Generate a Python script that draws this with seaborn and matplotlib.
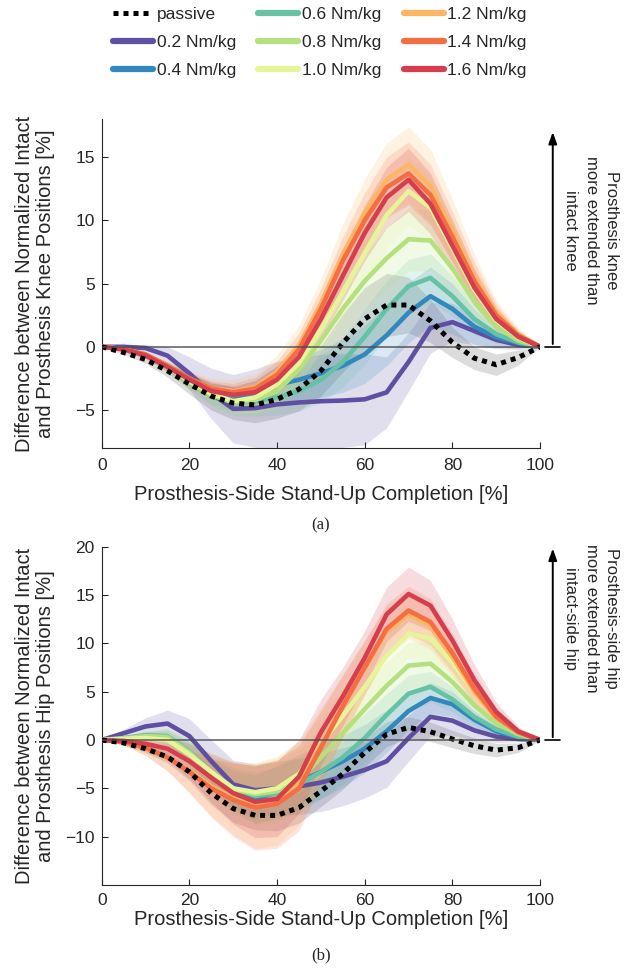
import numpy as np
import matplotlib
matplotlib.use('Agg')
import matplotlib.pyplot as plt
import matplotlib.transforms as mtransforms
from matplotlib.lines import Line2D
import seaborn as sns

# stand-up completion [%]
completion = [0, 5, 10, 15, 20, 25, 30, 35, 40, 45, 50, 55, 60, 65, 70, 75, 80, 85, 90, 95, 100]

series_labels = ['0.2 Nm/kg', '0.4 Nm/kg', '0.6 Nm/kg', '0.8 Nm/kg',
                 '1.0 Nm/kg', '1.2 Nm/kg', '1.4 Nm/kg', '1.6 Nm/kg']
series_colors = ['#5e4fa2', '#3288bd', '#66c2a5', '#b5e07e',
                 '#e6f598', '#fdb763', '#f46d43', '#d53e4f']

# knee: mean difference [%]
knee_passive = [0, -0.45, -1.0, -1.9, -2.95, -3.9, -4.45, -4.6, -4.15, -3.35, -1.9, 0.3, 2.2, 3.3, 3.3, 2.05, 0.35, -0.9, -1.42, -0.85, 0]
knee_02 = [0, 0, -0.1, -0.7, -2.1, -3.7, -4.9, -4.85, -4.55, -4.4, -4.3, -4.25, -4.15, -3.6, -1.2, 1.5, 1.95, 1.25, 0.55, 0.15, 0]
knee_04 = [0, -0.2, -0.7, -1.6, -2.7, -3.7, -4.2, -3.8, -3.0, -2.6, -2.1, -1.5, -0.6, 0.9, 2.7, 4.0, 3.0, 1.6, 0.75, 0.3, 0]
knee_06 = [0, -0.2, -0.7, -1.6, -2.8, -3.8, -4.4, -4.3, -4.0, -3.5, -2.6, -1.2, 0.8, 3.0, 4.8, 5.45, 4.0, 2.2, 1.0, 0.35, 0]
knee_08 = [0, -0.2, -0.7, -1.6, -2.8, -3.8, -4.4, -4.2, -3.5, -1.8, 0.5, 3.0, 5.2, 7.0, 8.5, 8.4, 6.2, 3.6, 1.6, 0.5, 0]
knee_10 = [0, -0.2, -0.7, -1.6, -2.7, -3.7, -4.3, -4.0, -3.0, -1.3, 1.4, 4.3, 7.4, 10.4, 12.3, 11.0, 7.8, 4.5, 2.1, 0.75, 0]
knee_12 = [0, -0.2, -0.6, -1.5, -2.5, -3.3, -3.5, -3.2, -2.0, 0.1, 3.4, 7.3, 10.6, 13.2, 14.4, 12.7, 9.2, 5.5, 2.7, 1.0, 0]
knee_14 = [0, -0.2, -0.6, -1.5, -2.5, -3.3, -3.6, -3.3, -2.2, -0.2, 3.0, 6.8, 10.0, 12.6, 13.7, 12.0, 8.7, 5.2, 2.5, 0.9, 0]
knee_16 = [0, -0.2, -0.7, -1.6, -2.6, -3.5, -3.8, -3.6, -2.6, -0.8, 2.2, 5.6, 9.0, 11.8, 13.2, 11.3, 8.0, 4.7, 2.2, 0.8, 0]

# knee: spread (half width of shaded band)
knee_passive_sd = [0, 0.15, 0.3, 0.5, 0.8, 1.1, 1.3, 1.4, 1.5, 1.7, 2.0, 2.3, 2.5, 2.5, 2.2, 1.7, 1.2, 0.9, 0.85, 0.6, 0]
knee_02_sd = [0, 0.1, 0.3, 0.7, 1.3, 2.0, 2.7, 3.1, 3.4, 3.6, 3.7, 3.7, 3.6, 2.8, 2.3, 2.0, 1.5, 1.1, 0.7, 0.35, 0]
knee_04_sd = [0, 0.1, 0.2, 0.4, 0.6, 0.8, 1.0, 1.2, 1.5, 1.7, 1.9, 2.1, 2.3, 2.4, 2.4, 2.3, 2.0, 1.4, 0.8, 0.4, 0]
knee_06_sd = [0, 0.1, 0.2, 0.4, 0.6, 0.8, 1.0, 1.2, 1.4, 1.6, 1.8, 2.0, 2.2, 2.2, 2.1, 1.9, 1.6, 1.2, 0.7, 0.35, 0]
knee_08_sd = [0, 0.1, 0.2, 0.4, 0.6, 0.8, 1.0, 1.2, 1.4, 1.6, 1.8, 2.0, 2.2, 2.4, 2.5, 2.4, 2.0, 1.4, 0.8, 0.4, 0]
knee_10_sd = [0, 0.1, 0.2, 0.4, 0.6, 0.8, 1.0, 1.2, 1.4, 1.6, 1.8, 2.1, 2.4, 2.6, 2.7, 2.6, 2.2, 1.6, 0.9, 0.4, 0]
knee_12_sd = [0, 0.1, 0.2, 0.4, 0.6, 0.8, 0.9, 1.1, 1.3, 1.6, 2.0, 2.4, 2.7, 2.9, 3.0, 2.9, 2.5, 1.8, 1.0, 0.5, 0]
knee_14_sd = [0, 0.1, 0.2, 0.3, 0.5, 0.6, 0.7, 0.9, 1.1, 1.3, 1.6, 1.9, 2.2, 2.4, 2.5, 2.4, 2.0, 1.5, 0.9, 0.4, 0]
knee_16_sd = [0, 0.1, 0.2, 0.3, 0.5, 0.6, 0.7, 0.9, 1.1, 1.3, 1.6, 1.9, 2.2, 2.4, 2.5, 2.4, 2.0, 1.5, 0.9, 0.4, 0]

# hip: mean difference [%]
hip_passive = [0, -0.3, -0.9, -1.75, -3.3, -5.5, -7.1, -7.8, -7.8, -7.0, -5.3, -3.5, -1.3, 0.6, 1.3, 0.85, 0.1, -0.6, -1.05, -0.8, 0]
hip_02 = [0, 0.7, 1.4, 1.7, 0.4, -2.2, -4.6, -5.2, -5.0, -4.8, -4.4, -3.8, -3.1, -2.2, 0.2, 2.4, 2.0, 1.0, 0.35, 0.1, 0]
hip_04 = [0, 0.15, 0.4, 0.2, -1.3, -3.5, -5.3, -6.1, -5.4, -4.3, -3.3, -2.2, -0.9, 0.9, 3.0, 4.35, 3.7, 2.1, 0.9, 0.3, 0]
hip_06 = [0, 0.2, 0.5, 0.4, -1.2, -3.3, -5.0, -5.8, -5.5, -4.6, -3.3, -1.8, 0.2, 2.6, 4.8, 5.5, 4.2, 2.4, 1.1, 0.35, 0]
hip_08 = [0, 0.15, 0.4, 0.3, -1.3, -3.4, -5.1, -5.6, -5.3, -4.2, -1.8, 0.7, 3.2, 5.6, 7.7, 7.9, 6.0, 3.6, 1.7, 0.6, 0]
hip_10 = [0, 0.1, 0.2, 0.0, -1.5, -3.3, -5.0, -5.4, -5.0, -3.5, -0.4, 2.5, 5.5, 8.7, 11.0, 10.5, 8.0, 5.0, 2.5, 0.9, 0]
hip_12 = [0, -0.2, -0.8, -1.8, -3.2, -4.8, -6.0, -6.8, -6.3, -4.5, -0.5, 3.6, 7.5, 11.2, 13.0, 11.8, 8.6, 5.0, 2.3, 0.8, 0]
hip_14 = [0, -0.2, -0.8, -1.8, -3.3, -5.0, -6.2, -7.0, -6.6, -5.0, -0.8, 3.5, 7.5, 11.5, 13.4, 12.2, 9.0, 5.3, 2.4, 0.8, 0]
hip_16 = [0, -0.1, -0.4, -0.9, -2.2, -3.9, -5.5, -6.4, -6.1, -3.8, 0.8, 4.5, 8.5, 13.0, 15.1, 13.9, 10.3, 6.2, 2.9, 0.9, 0]

# hip: spread (half width of shaded band)
hip_passive_sd = [0, 0.2, 0.4, 0.6, 0.9, 1.2, 1.4, 1.5, 1.6, 1.6, 1.6, 1.6, 1.5, 1.3, 1.1, 1.0, 0.9, 0.8, 0.7, 0.5, 0]
hip_02_sd = [0, 0.4, 0.9, 1.4, 1.8, 2.2, 2.5, 2.7, 2.8, 2.9, 3.0, 3.0, 2.9, 2.7, 2.4, 2.0, 1.5, 1.0, 0.6, 0.3, 0]
hip_04_sd = [0, 0.2, 0.4, 0.7, 1.1, 1.6, 2.1, 2.5, 2.7, 2.8, 2.8, 2.7, 2.5, 2.2, 1.9, 1.6, 1.3, 0.9, 0.6, 0.3, 0]
hip_06_sd = [0, 0.2, 0.4, 0.7, 1.1, 1.6, 2.1, 2.5, 2.7, 2.8, 2.8, 2.7, 2.5, 2.2, 1.9, 1.6, 1.3, 0.9, 0.6, 0.3, 0]
hip_08_sd = [0, 0.2, 0.5, 0.9, 1.4, 2.0, 2.6, 3.0, 3.2, 3.2, 3.0, 2.8, 2.6, 2.5, 2.4, 2.2, 1.8, 1.3, 0.8, 0.4, 0]
hip_10_sd = [0, 0.2, 0.5, 0.9, 1.4, 2.0, 2.6, 3.0, 3.2, 3.2, 3.0, 2.8, 2.6, 2.5, 2.4, 2.2, 1.8, 1.3, 0.8, 0.4, 0]
hip_12_sd = [0, 0.3, 0.8, 1.4, 2.2, 3.0, 3.8, 4.4, 4.6, 4.4, 3.8, 3.2, 2.8, 2.6, 2.5, 2.4, 2.0, 1.5, 0.9, 0.4, 0]
hip_14_sd = [0, 0.3, 0.8, 1.4, 2.2, 3.0, 3.8, 4.4, 4.6, 4.4, 3.8, 3.2, 2.8, 2.6, 2.5, 2.4, 2.0, 1.5, 0.9, 0.4, 0]
hip_16_sd = [0, 0.3, 0.7, 1.2, 1.8, 2.5, 3.2, 3.7, 3.9, 3.8, 3.4, 3.0, 2.8, 2.8, 2.8, 2.6, 2.2, 1.6, 1.0, 0.5, 0]

knee_means = [knee_02, knee_04, knee_06, knee_08, knee_10, knee_12, knee_14, knee_16]
knee_sds = [knee_02_sd, knee_04_sd, knee_06_sd, knee_08_sd, knee_10_sd, knee_12_sd, knee_14_sd, knee_16_sd]
hip_means = [hip_02, hip_04, hip_06, hip_08, hip_10, hip_12, hip_14, hip_16]
hip_sds = [hip_02_sd, hip_04_sd, hip_06_sd, hip_08_sd, hip_10_sd, hip_12_sd, hip_14_sd, hip_16_sd]

sns.set_style('ticks')
plt.rcParams['font.family'] = ['Liberation Sans', 'DejaVu Sans']
axis_gray = '#262626'
passive_dash = (0, (1, 1))


def draw_panel(ax, passive, passive_sd, means, sds, ylim, yticks, ylabel, note, note_y, arrow_top,
               xpad, xlabelpad):
    x = np.array(completion)
    # shaded bands
    ax.fill_between(x, np.array(passive) - passive_sd, np.array(passive) + passive_sd,
                    color='#8c8c8c', alpha=0.3, lw=0, zorder=1)
    for mean, sd, color in zip(means, sds, series_colors):
        ax.fill_between(x, np.array(mean) - sd, np.array(mean) + sd,
                        color=color, alpha=0.18, lw=0, zorder=1)
    # mean lines
    for mean, color in zip(means, series_colors):
        sns.lineplot(x=x, y=mean, color=color, lw=3.3, ax=ax, zorder=3,
                     solid_joinstyle='round', solid_capstyle='round')
    sns.lineplot(x=x, y=passive, color='black', lw=3.6, linestyle=passive_dash, ax=ax, zorder=4)
    ax.axhline(0, color='#4d4d4d', lw=1.2, alpha=0.85, zorder=5)

    ax.set_xlim(0, 100)
    ax.set_ylim(*ylim)
    ax.set_xticks([0, 20, 40, 60, 80, 100])
    ax.set_yticks(yticks)
    ax.tick_params(direction='in', length=4, width=0.8, color=axis_gray,
                   labelcolor=axis_gray, labelsize=12.5, pad=5)
    ax.tick_params(axis='x', pad=xpad)
    for side in ['left', 'bottom']:
        ax.spines[side].set_color(axis_gray)
        ax.spines[side].set_linewidth(0.8)
    sns.despine(ax=ax)
    ax.set_xlabel('Prosthesis-Side Stand-Up Completion [%]', fontsize=14.5, labelpad=xlabelpad)
    ax.set_ylabel(ylabel, fontsize=14.5, linespacing=1.15)
    ax.yaxis.set_label_coords(-0.106, 0.5)

    # direction arrow at the right side
    trans = mtransforms.blended_transform_factory(ax.transAxes, ax.transData)
    ax.annotate('', xy=(1.029, arrow_top), xytext=(1.029, 0), xycoords=trans, textcoords=trans,
                arrowprops=dict(arrowstyle='-|>,head_length=0.7,head_width=0.25', color='black', lw=1.4),
                annotation_clip=False)
    ax.plot([1.012, 1.046], [0, 0], transform=trans, color='black', lw=1.2, clip_on=False)
    ax.text(1.117, note_y, note, transform=trans, rotation=-90, ha='center', va='center',
            fontsize=12, linespacing=1.45, multialignment='center')


fig = plt.figure(figsize=(6.26, 9.71), dpi=100)
ax_knee = fig.add_axes([0.1625, 0.5386, 0.7002, 0.3388])
ax_hip = fig.add_axes([0.1625, 0.0886, 0.7002, 0.3484])

draw_panel(ax_knee, knee_passive, knee_passive_sd, knee_means, knee_sds,
           (-8, 18), [-5, 0, 5, 10, 15],
           'Difference between Normalized Intact\nand Prosthesis Knee Positions [%]',
           'Prosthesis knee\nmore extended than\nintact knee', 9.2, 17.2, 7, 9)
draw_panel(ax_hip, hip_passive, hip_passive_sd, hip_means, hip_sds,
           (-15, 20), [-10, -5, 0, 5, 10, 15, 20],
           'Difference between Normalized Intact\nand Prosthesis Hip Positions [%]',
           'Prosthesis-side hip\nmore extended than\nintact-side hip', 12.6, 20.1, 5.5, 2)

fig.text(0.5125, 0.4593, '(a)', ha='center', va='center', fontsize=12, family=['Liberation Serif'])
fig.text(0.5125, 0.0165, '(b)', ha='center', va='center', fontsize=12, family=['Liberation Serif'])

# legend in column order: passive, 0.2, 0.4 | 0.6, 0.8, 1.0 | 1.2, 1.4, 1.6
handles = [Line2D([], [], color='black', lw=3.6, linestyle=passive_dash)]
handles += [Line2D([], [], color=c, lw=4.5) for c in series_colors]
labels = ['passive'] + series_labels
fig.legend(handles, labels, ncol=3, loc='upper center', bbox_to_anchor=(0.511, 1.009),
           frameon=False, fontsize=12.5, handlelength=2.3, handletextpad=0.2,
           columnspacing=1.3, labelspacing=0.75)

fig.savefig('out.png', dpi=100)
